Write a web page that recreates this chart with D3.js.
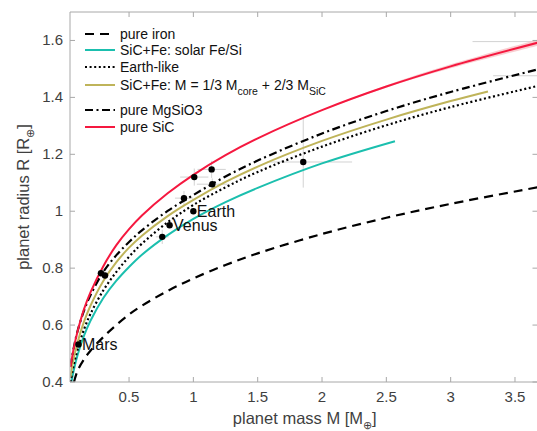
<!DOCTYPE html>
<html><head><meta charset="utf-8">
<script src="https://cdn.jsdelivr.net/npm/d3@7"></script>
<style>
body{margin:0;background:#fff}
svg{display:block}
text{font-family:"Liberation Sans",Arial,Helvetica,sans-serif}
</style>
</head><body>
<svg id="chart" width="537" height="431"></svg>
<script>
// ---- tick labels ----
const xTicks = [0.5, 1, 1.5, 2, 2.5, 3, 3.5];
const yTicks = [0.4, 0.6, 0.8, 1, 1.2, 1.4, 1.6];

// ---- model curves (mass in M_earth, radius in R_earth) ----
const ironM = [0.072, 0.1, 0.15, 0.2, 0.3, 0.4, 0.5, 0.6, 0.8, 1, 1.25, 1.5, 2, 2.5, 3, 3.675];
const ironR = [0.40, 0.44, 0.48, 0.51, 0.558, 0.600, 0.637, 0.668, 0.720, 0.764, 0.811, 0.852, 0.920, 0.977, 1.026, 1.084];

const solarM = [0.052, 0.07, 0.1, 0.15, 0.2, 0.3, 0.4, 0.5, 0.6, 0.8, 1, 1.25, 1.5, 2, 2.567];
const solarR = [0.40, 0.441, 0.495, 0.563, 0.615, 0.695, 0.755, 0.804, 0.847, 0.916, 0.973, 1.032, 1.082, 1.168, 1.246];

const earthM = [0.045, 0.07, 0.1, 0.15, 0.2, 0.3, 0.4, 0.5, 0.6, 0.8, 1, 1.25, 1.5, 2, 2.5, 3, 3.675];
const earthR = [0.400, 0.459, 0.514, 0.585, 0.639, 0.722, 0.786, 0.840, 0.886, 0.961, 1.022, 1.084, 1.138, 1.227, 1.302, 1.366, 1.440];

const coreM = [0.045, 0.07, 0.1, 0.15, 0.2, 0.3, 0.4, 0.5, 0.6, 0.8, 1, 1.25, 1.5, 2, 2.5, 3, 3.29];
const coreR = [0.418, 0.483, 0.540, 0.612, 0.668, 0.755, 0.820, 0.872, 0.914, 0.983, 1.040, 1.103, 1.157, 1.247, 1.322, 1.387, 1.421];

const mgsio3M = [0.045, 0.07, 0.1, 0.15, 0.2, 0.3, 0.4, 0.5, 0.6, 0.8, 1, 1.25, 1.5, 2, 2.5, 3, 3.675];
const mgsio3R = [0.455, 0.520, 0.579, 0.651, 0.705, 0.787, 0.845, 0.892, 0.933, 1.001, 1.057, 1.122, 1.178, 1.273, 1.352, 1.419, 1.498];

const sicM = [0.045, 0.07, 0.1, 0.15, 0.2, 0.3, 0.4, 0.5, 0.6, 0.8, 1, 1.25, 1.5, 2, 2.5, 3, 3.675];
const sicR = [0.452, 0.518, 0.578, 0.656, 0.715, 0.807, 0.880, 0.937, 0.985, 1.063, 1.128, 1.197, 1.256, 1.355, 1.438, 1.509, 1.592];
const sicSpread = [0, 0, 0, 0, 0, 0, 0, 0, 0, 0, 0, 0, 0, 0.001, 0.004, 0.007, 0.011];

// ---- planets ----
const planetNames = ["Mars", "Venus", "Earth", "", "", "", "", "", "", "", "", "", ""];
const planetM = [0.107, 0.815, 1.0, 0.282, 0.313, 0.758, 0.927, 1.007, 1.142, 1.147, 1.854, 4.40, 4.60];
const planetR = [0.532, 0.951, 1.0, 0.782, 0.774, 0.910, 1.046, 1.120, 1.147, 1.095, 1.173, 1.596, 1.476];
const planetMlo = [0, 0, 0, 0.03, 0.03, 0.05, 0.07, 0.11, 0.11, 0.12, 0.28, 1.23, 1.27];
const planetMhi = [0, 0, 0, 0.03, 0.03, 0.05, 0.07, 0.11, 0.11, 0.12, 0.38, 1.23, 1.27];
const planetRlo = [0, 0, 0, 0.012, 0.012, 0.025, 0.025, 0.03, 0.03, 0.02, 0.09, 0.1, 0.1];
const planetRhi = [0, 0, 0, 0.012, 0.012, 0.025, 0.025, 0.03, 0.03, 0.02, 0.155, 0.1, 0.1];

// ---- legend ----
const legendLabels = ["pure iron", "SiC+Fe: solar Fe/Si", "Earth-like", "SiC+Fe: M = 1/3 M|core| + 2/3 M|SiC|", "pure MgSiO3", "pure SiC"];

const series = [
  {M: ironM, R: ironR, color: "#000", dash: "9,6", w: 2.2},
  {M: solarM, R: solarR, color: "#1bbfae", dash: null, w: 2},
  {M: earthM, R: earthR, color: "#000", dash: "2,2.6", w: 2.2},
  {M: coreM, R: coreR, color: "#bfb45a", dash: null, w: 2},
  {M: mgsio3M, R: mgsio3R, color: "#000", dash: "8,3.5,2,3.5", w: 2.2},
  {M: sicM, R: sicR, color: "#f5183f", dash: null, w: 2}
];

const svg = d3.select("#chart");
const L = 70, Rt = 537.5, T = 12, B = 382;
const x = d3.scaleLinear().domain([0.041, 3.675]).range([L, Rt]);
const y = d3.scaleLinear().domain([0.4, 1.7]).range([B, T]);

svg.append("defs").append("clipPath").attr("id", "clip")
  .append("rect").attr("x", L).attr("y", T).attr("width", Rt - L).attr("height", B - T);

const plot = svg.append("g").attr("clip-path", "url(#clip)");

// error bars
const eb = plot.append("g").attr("stroke", "#d2d2d2").attr("stroke-width", 1);
planetM.forEach((m, i) => {
  if (planetMlo[i] + planetMhi[i] > 0)
    eb.append("line").attr("x1", x(m - planetMlo[i])).attr("x2", x(m + planetMhi[i]))
      .attr("y1", y(planetR[i])).attr("y2", y(planetR[i]));
  if (planetRlo[i] + planetRhi[i] > 0)
    eb.append("line").attr("x1", x(m)).attr("x2", x(m))
      .attr("y1", y(planetR[i] - planetRlo[i])).attr("y2", y(planetR[i] + planetRhi[i]));
});

// SiC spread band
const band = d3.area().x((d, i) => x(sicM[i]))
  .y0((d, i) => y(sicR[i] - sicSpread[i]))
  .y1((d, i) => y(sicR[i] + sicSpread[i]))
  .curve(d3.curveCatmullRom.alpha(0.5));
plot.append("path").datum(sicM).attr("d", band).attr("fill", "#f8c4c8").attr("opacity", 0.85);

// curves
const line = d3.line().curve(d3.curveCatmullRom.alpha(0.5));
series.forEach(s => {
  const pts = s.M.map((m, i) => [x(m), y(s.R[i])]);
  plot.append("path").attr("d", line(pts)).attr("fill", "none")
    .attr("stroke", s.color).attr("stroke-width", s.w)
    .attr("stroke-dasharray", s.dash);
});

// planets
plot.selectAll("circle.p").data(planetM).enter().append("circle")
  .attr("cx", (d) => x(d)).attr("cy", (d, i) => y(planetR[i])).attr("r", 3.2).attr("fill", "#000");
svg.selectAll("text.pl").data(planetNames).enter().append("text")
  .attr("x", (d, i) => x(planetM[i]) + 3.5).attr("y", (d, i) => y(planetR[i]) + 5.8)
  .attr("font-size", 16).attr("fill", "#111").text(d => d);

// axes
const axisColor = "#a8a8a8", labelColor = "#3f3f3f";
const ax = svg.append("g").attr("stroke", axisColor).attr("stroke-width", 1).attr("fill", "none");
ax.append("line").attr("x1", L).attr("x2", L).attr("y1", T).attr("y2", B);
ax.append("line").attr("x1", L).attr("x2", Rt).attr("y1", B).attr("y2", B);
ax.append("line").attr("x1", L).attr("x2", Rt).attr("y1", T).attr("y2", T);
ax.append("line").attr("x1", Rt).attr("x2", Rt).attr("y1", T).attr("y2", B);
xTicks.forEach(t => {
  ax.append("line").attr("x1", x(t)).attr("x2", x(t)).attr("y1", B).attr("y2", B - 5);
  ax.append("line").attr("x1", x(t)).attr("x2", x(t)).attr("y1", T).attr("y2", T + 5);
});
yTicks.forEach(t => {
  ax.append("line").attr("x1", L).attr("x2", L + 5).attr("y1", y(t)).attr("y2", y(t));
  ax.append("line").attr("x1", Rt).attr("x2", Rt - 5).attr("y1", y(t)).attr("y2", y(t));
});
svg.selectAll("text.xt").data(xTicks).enter().append("text")
  .attr("x", d => x(d)).attr("y", B + 20).attr("text-anchor", "middle")
  .attr("font-size", 15).attr("fill", labelColor).text(d => d3.format("")(d));
svg.selectAll("text.yt").data(yTicks).enter().append("text")
  .attr("x", L - 7).attr("y", d => y(d) + 5).attr("text-anchor", "end")
  .attr("font-size", 15).attr("fill", labelColor).text(d => d3.format("")(d));

// axis labels
const xl = svg.append("text").attr("x", (L + Rt) / 2 + 1).attr("y", 424).attr("text-anchor", "middle")
  .attr("font-size", 16.5).attr("fill", labelColor);
xl.append("tspan").text("planet mass M [M");
xl.append("tspan").attr("font-size", 11).attr("dy", 5).text("⊕");
xl.append("tspan").attr("dy", -5).text("]");

const yl = svg.append("text").attr("transform", `translate(29,${(T + B) / 2}) rotate(-90)`)
  .attr("text-anchor", "middle").attr("font-size", 16.5).attr("fill", labelColor);
yl.append("tspan").text("planet radius R [R");
yl.append("tspan").attr("font-size", 11).attr("dy", 5).text("⊕");
yl.append("tspan").attr("dy", -5).text("]");

// legend
const rowsY = [34, 50, 67, 85, 110, 127];
const lg = svg.append("g");
series.forEach((s, i) => {
  lg.append("line").attr("x1", 85).attr("x2", 115).attr("y1", rowsY[i]).attr("y2", rowsY[i])
    .attr("stroke", s.color).attr("stroke-width", s.w).attr("stroke-dasharray", s.dash);
  const t = lg.append("text").attr("x", 120).attr("y", rowsY[i] + 5).attr("font-size", 14).attr("fill", "#111");
  const parts = legendLabels[i].split("|");
  parts.forEach((p, k) => {
    if (p === "") return;
    if (k % 2 === 1) t.append("tspan").attr("font-size", 10.5).attr("dy", 5).text(p);
    else t.append("tspan").attr("dy", k > 0 ? -5 : 0).text(p);
  });
});
</script>
</body></html>
